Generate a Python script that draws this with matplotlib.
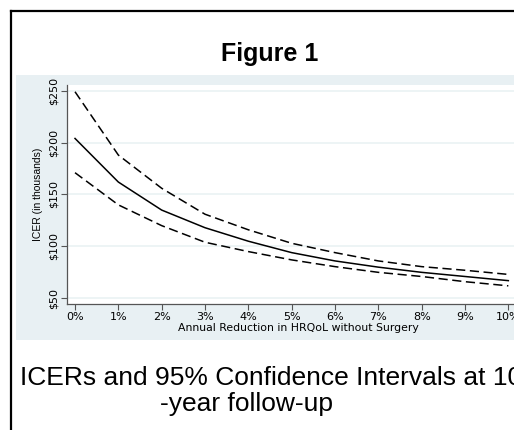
import matplotlib
matplotlib.use("Agg")
import matplotlib.pyplot as plt
from matplotlib.patches import Rectangle
from matplotlib.lines import Line2D

plt.rcParams['font.family'] = ['Liberation Sans', 'DejaVu Sans']

# annual reduction in HRQoL (%) and ICER in thousands of dollars
reduction = [0, 1, 2, 3, 4, 5, 6, 7, 8, 9, 10]
icer = [204, 162, 135, 118, 105, 94, 86, 80, 75, 71, 67]
upper = [249, 188, 156, 131, 116, 103, 94, 86, 80.5, 77, 73]
lower = [171, 140, 120, 104, 95, 87, 80.5, 75, 71, 66, 62]

yticks = [50, 100, 150, 200, 250]
ytick_labels = ['$50', '$100', '$150', '$200', '$250']
xtick_labels = [f'{r}%' for r in reduction]

W, H = 514, 430
fig = plt.figure(figsize=(W / 100, H / 100), dpi=100)


def fx(px):
    return px / W


def fy(py):
    return 1 - py / H


# outer frame (cut off on right and bottom)
fig.add_artist(Line2D([fx(11), fx(11)], [fy(11), fy(440)], color='black', lw=1.6))
fig.add_artist(Line2D([fx(11), fx(530)], [fy(11), fy(11)], color='black', lw=1.6))

# light panel behind the plot
fig.patches.append(Rectangle((fx(16), fy(340)), fx(520) - fx(16), fy(75) - fy(340),
                             transform=fig.transFigure, facecolor='#e8f0f3',
                             edgecolor='none', zorder=0))

fig.text(fx(270), fy(61), 'Figure 1', ha='center', va='baseline',
         fontsize=18, fontweight='bold')

ax = fig.add_axes([fx(67), fy(304), fx(530) - fx(67), fy(85) - fy(304)])
ax.set_zorder(2)
ax.set_facecolor('white')

ax.plot(reduction, icer, color='black', lw=1.1)
ax.plot(reduction, upper, color='black', lw=1.1, dashes=(6, 3))
ax.plot(reduction, lower, color='black', lw=1.1, dashes=(6, 3))

ax.set_xlim(-0.185, 10.5)
ax.set_ylim(44.5, 255.5)
ax.set_xticks(reduction)
ax.set_xticklabels(xtick_labels, fontsize=8, family='DejaVu Sans')
ax.set_yticks(yticks)
ax.set_yticklabels(ytick_labels, fontsize=8, rotation=90, va='center',
                   family='DejaVu Sans')
ax.grid(axis='y', color='#eaf2f3', lw=1.2)
ax.set_axisbelow(True)

for side in ['top', 'right']:
    ax.spines[side].set_visible(False)
for side in ['left', 'bottom']:
    ax.spines[side].set_color('#555555')
    ax.spines[side].set_linewidth(0.9)
ax.tick_params(direction='out', length=4, width=0.8, color='#555555', pad=2)

ax.set_xlabel('Annual Reduction in HRQoL without Surgery', fontsize=7.8,
              family='DejaVu Sans', labelpad=0.5)
ax.set_ylabel('ICER (in thousands)', fontsize=7.5, labelpad=4)

fig.text(fx(20), fy(385), 'ICERs and 95% Confidence Intervals at 10',
         ha='left', va='baseline', fontsize=19)
fig.text(fx(247), fy(411), '-year follow-up',
         ha='center', va='baseline', fontsize=19)

fig.savefig('out.png', dpi=100)
